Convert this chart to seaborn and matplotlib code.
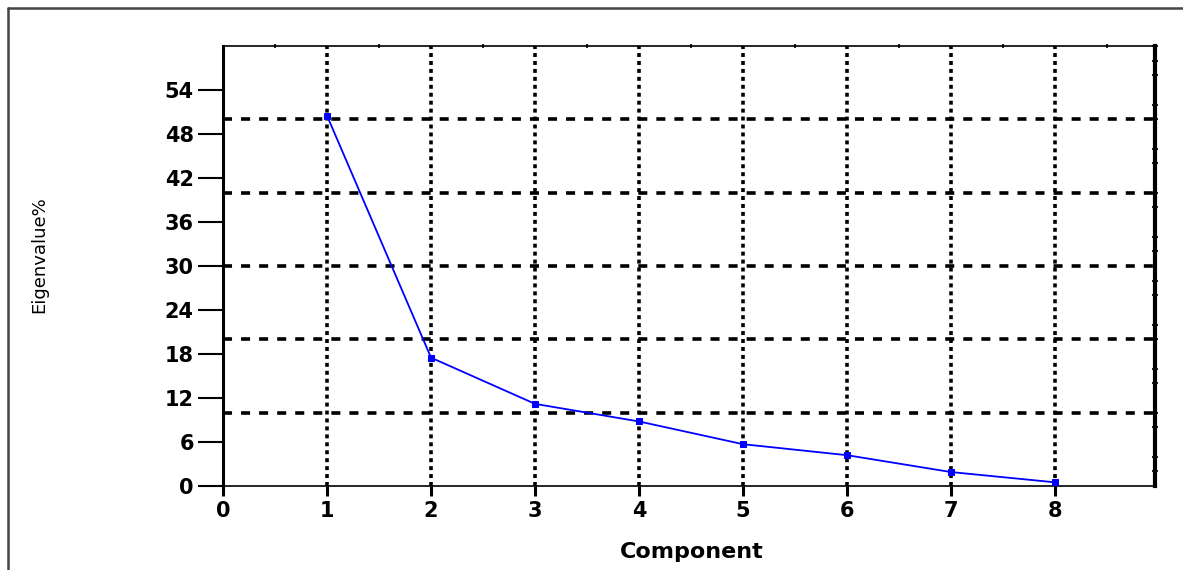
import matplotlib
matplotlib.use("Agg")
import numpy as np
import pandas as pd
import seaborn as sns
from matplotlib import pyplot as plt
from matplotlib.lines import Line2D
from matplotlib.ticker import MultipleLocator

# values
components = [1, 2, 3, 4, 5, 6, 7, 8]
eigenvalue_pct = [50.5, 17.5, 11.2, 8.8, 5.7, 4.2, 1.9, 0.5]
y_ticks = [0, 6, 12, 18, 24, 30, 36, 42, 48, 54]
x_ticks = [0, 1, 2, 3, 4, 5, 6, 7, 8]
h_grid = [10, 20, 30, 40, 50]

sns.set_style("white")
plt.rcParams['font.family'] = ['DejaVu Sans']

df = pd.DataFrame({'Component': components, 'Eigenvalue%': eigenvalue_pct})

fig = plt.figure(figsize=(11.83, 5.70), dpi=100)
ax = fig.add_axes([223 / 1183, 1 - 486 / 570, (1155 - 223) / 1183, (486 - 46) / 570])

# dotted grid lines, vertical at each component and horizontal every 10
for x in components:
    ax.axvline(x, color='black', lw=2.6, ls=(0, (1.1, 1.1)), zorder=1)
for y in h_grid:
    ax.axhline(y, color='black', lw=2.6, ls=(0, (2.5, 2.5)), zorder=1)

sns.lineplot(data=df, x='Component', y='Eigenvalue%', ax=ax, color='#0000ff',
             lw=1.3, marker='s', markersize=5, markeredgecolor='#0000ff', zorder=3)

ax.set_xlim(0, 8.96)
ax.set_ylim(0, 60)
ax.set_xticks(x_ticks)
ax.set_yticks(y_ticks)
ax.set_xlabel('')
ax.set_ylabel('')

ax.tick_params(axis='both', which='major', direction='out', length=7, width=2.2,
               labelsize=15, colors='black', pad=4, left=True, bottom=True)
ax.tick_params(axis='y', which='major', length=18, width=1.5, pad=3)
ax.yaxis.set_minor_locator(MultipleLocator(2))
ax.xaxis.set_minor_locator(MultipleLocator(0.5))
ax.tick_params(axis='y', which='minor', left=False, right=True, direction='inout',
               length=5, width=1.5)
ax.tick_params(axis='x', which='minor', bottom=False, top=True, direction='inout',
               length=3, width=1.5)
for lab in ax.get_xticklabels() + ax.get_yticklabels():
    lab.set_fontweight('bold')

ax.spines['left'].set_linewidth(2.2)
ax.spines['right'].set_linewidth(3)
ax.spines['top'].set_linewidth(1.2)
ax.spines['bottom'].set_linewidth(1.2)
for s in ax.spines.values():
    s.set_color('black')

fig.text(692 / 1183, 1 - 552 / 570, 'Component', ha='center', va='center',
         fontsize=16, fontweight='bold', color='black')
fig.text(39 / 1183, 1 - 255 / 570, 'Eigenvalue%', ha='center', va='center',
         rotation=90, fontsize=13, color='black')

# frame lines at the top and left of the picture
fig.add_artist(Line2D([8 / 1183, 1], [1 - 8 / 570, 1 - 8 / 570], color='#444444', lw=1.8))
fig.add_artist(Line2D([8 / 1183, 8 / 1183], [0, 1 - 8 / 570], color='#444444', lw=1.8))

fig.savefig('out.png', dpi=100)
